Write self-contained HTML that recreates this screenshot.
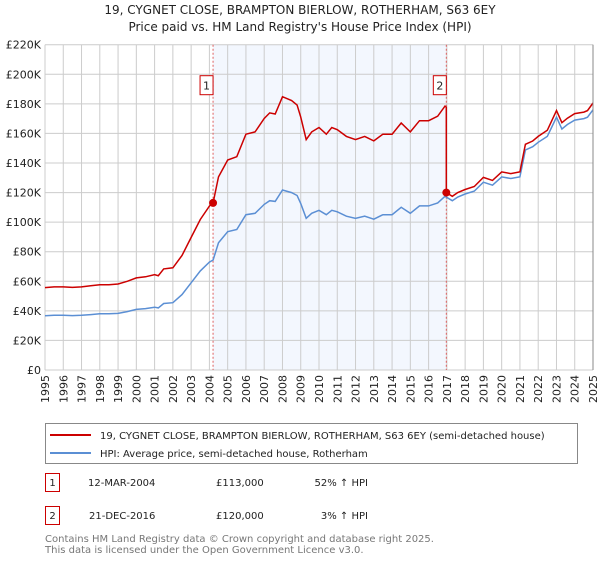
<!DOCTYPE html>
<html><head><meta charset="utf-8">
<style>
body{margin:0;background:#fff;font-family:"Liberation Sans","DejaVu Sans",sans-serif;}
svg text{font-family:"DejaVu Sans","Liberation Sans",sans-serif;}
</style></head>
<body>
<svg width="600" height="560" xmlns="http://www.w3.org/2000/svg">
<text x="300" y="14" text-anchor="middle" font-size="12" fill="#222">19, CYGNET CLOSE, BRAMPTON BIERLOW, ROTHERHAM, S63 6EY</text>
<text x="300" y="31" text-anchor="middle" font-size="12" fill="#222">Price paid vs. HM Land Registry's House Price Index (HPI)</text>
<g id="plot"></g>
<g>
<rect x="45.5" y="423.5" width="532" height="40" fill="#fff" stroke="#888"/>
<line x1="50" y1="435" x2="91" y2="435" stroke="#cc0000" stroke-width="2"/>
<text x="100" y="439" font-size="10" fill="#222">19, CYGNET CLOSE, BRAMPTON BIERLOW, ROTHERHAM, S63 6EY (semi-detached house)</text>
<line x1="50" y1="453" x2="91" y2="453" stroke="#5b8fd4" stroke-width="2"/>
<text x="100" y="457" font-size="10" fill="#222">HPI: Average price, semi-detached house, Rotherham</text>
</g>
<g font-size="10" fill="#222">
<rect x="45.5" y="473.5" width="14" height="18" fill="#fff" stroke="#cc0000"/>
<text x="52.5" y="486" text-anchor="middle">1</text>
<text x="88" y="486">12-MAR-2004</text>
<text x="216" y="486">£113,000</text>
<text x="368" y="486" text-anchor="end">52% ↑ HPI</text>
<rect x="45.5" y="506.5" width="14" height="18" fill="#fff" stroke="#cc0000"/>
<text x="52.5" y="519" text-anchor="middle">2</text>
<text x="89" y="519">21-DEC-2016</text>
<text x="216" y="519">£120,000</text>
<text x="368" y="519" text-anchor="end">3% ↑ HPI</text>
</g>
<text x="45" y="542" font-size="10" fill="#777">Contains HM Land Registry data © Crown copyright and database right 2025.</text>
<text x="45" y="553" font-size="10" fill="#777">This data is licensed under the Open Government Licence v3.0.</text>
</svg>
<script>
const hpiYears=[1995,1995.5,1996,1996.5,1997,1997.5,1998,1998.5,1999,1999.5,2000,2000.5,2001,2001.2,2001.5,2002,2002.5,2003,2003.5,2004,2004.2,2004.5,2005,2005.5,2006,2006.5,2007,2007.3,2007.6,2008,2008.5,2008.8,2009,2009.3,2009.6,2010,2010.4,2010.7,2011,2011.5,2012,2012.5,2013,2013.5,2014,2014.5,2015,2015.5,2016,2016.5,2016.9,2017.3,2017.6,2018,2018.5,2019,2019.5,2020,2020.5,2021,2021.3,2021.7,2022,2022.5,2023,2023.3,2023.6,2024,2024.5,2024.7,2025];
const hpiValues=[36.7,37,37,36.8,37,37.5,38,38,38.3,39.5,41,41.5,42.5,42,45,45.5,51,59,67,73,74.4,86,93.5,95,105,106,112,114.5,114,121.7,120,118,112.7,102.6,106,108,105,108,107,104,102.6,104,102,105,105,110,106,111,111,113,117.5,114.5,117,119,121,127,125,130.6,129.5,130.6,148.8,151,154,158,171,163,166,169,170,171,176];
const saleYears=[2004.2,2016.97];
const saleValues=[113,120];
const saleLabels=["1","2"];
const yTicks=[0,20,40,60,80,100,120,140,160,180,200,220];
const xTicks=[1995,1996,1997,1998,1999,2000,2001,2002,2003,2004,2005,2006,2007,2008,2009,2010,2011,2012,2013,2014,2015,2016,2017,2018,2019,2020,2021,2022,2023,2024,2025];

const L=45,R=593,T=44.7,B=370;
const x=y=>L+(y-1995)/30*(R-L);
const yv=v=>B-v/220*(B-T);
const NS="http://www.w3.org/2000/svg";
const g=document.getElementById('plot');
function mk(t,a){const e=document.createElementNS(NS,t);for(const k in a)e.setAttribute(k,a[k]);g.appendChild(e);return e;}
function hpiAt(t){for(let i=1;i<hpiYears.length;i++){if(t<=hpiYears[i]){const f=(t-hpiYears[i-1])/(hpiYears[i]-hpiYears[i-1]);return hpiValues[i-1]+f*(hpiValues[i]-hpiValues[i-1]);}}return hpiValues[hpiValues.length-1];}

let sh=mk('rect',{x:x(saleYears[0]),y:T,width:x(saleYears[1])-x(saleYears[0]),height:B-T,fill:'#eef3fd',opacity:0.7});


yTicks.forEach(v=>{
 const l=mk('line',{x1:L,x2:R,y1:yv(v),y2:yv(v),stroke:'#ccc','stroke-width':1});
 
 
 const t=mk('text',{x:L-4,y:yv(v)+4,'text-anchor':'end','font-size':11,fill:'#222'});
 
 
 t.textContent=v===0?'£0':'£'+v+'K';
});
xTicks.forEach(yr=>{
 const l=mk('line',{x1:x(yr),x2:x(yr),y1:T,y2:B,stroke:'#ccc','stroke-width':1});
 
 
 const t=mk('text',{transform:`translate(${x(yr)+4},${B+5}) rotate(-90)`,'text-anchor':'end','font-size':11,fill:'#222'});
 
 
 t.textContent=yr;
});
saleYears.forEach((s,i)=>{
 const l=mk('line',{x1:x(s),x2:x(s),y1:T,y2:B,stroke:'#e06060','stroke-width':1,'stroke-dasharray':'2,2'});
 
 
 const r=mk('rect',{x:x(s)-13,y:T+31,width:13,height:19,fill:'#fff',stroke:'#cc0000'});
 
 
 const t=mk('text',{x:x(s)-6.5,y:T+45,'text-anchor':'middle','font-size':11,fill:'#222'});
 
 
 t.textContent=saleLabels[i];
});
// HPI line
let p=hpiYears.map((t,i)=>(i?'L':'M')+x(t).toFixed(1)+','+yv(hpiValues[i]).toFixed(1)).join('');
const hl=mk('path',{d:p,fill:'none',stroke:'#5b8fd4','stroke-width':1.5});


// property line: HPI indexed from last sale
const pts=[];
let ratio=saleValues[0]/hpiAt(saleYears[0]);
hpiYears.forEach((t,i)=>{ if(t<saleYears[1]) pts.push([t,hpiValues[i]*ratio]); });
pts.push([saleYears[1],hpiAt(saleYears[1])*ratio]);
const r2=saleValues[1]/hpiAt(saleYears[1]);
pts.push([saleYears[1],saleValues[1]]);
hpiYears.forEach((t,i)=>{ if(t>saleYears[1]) pts.push([t,hpiValues[i]*r2]); });
p=pts.map((q,i)=>(i?'L':'M')+x(q[0]).toFixed(1)+','+yv(q[1]).toFixed(1)).join('');
const pl=mk('path',{d:p,fill:'none',stroke:'#cc0000','stroke-width':1.5});


saleYears.forEach((s,i)=>{
 const c=mk('circle',{cx:x(s),cy:yv(saleValues[i]),r:4,fill:'#cc0000'});
 
 
});
const ax=mk('line',{x1:R,x2:R,y1:T,y2:B,stroke:'#888'});


</script>
</body></html>
